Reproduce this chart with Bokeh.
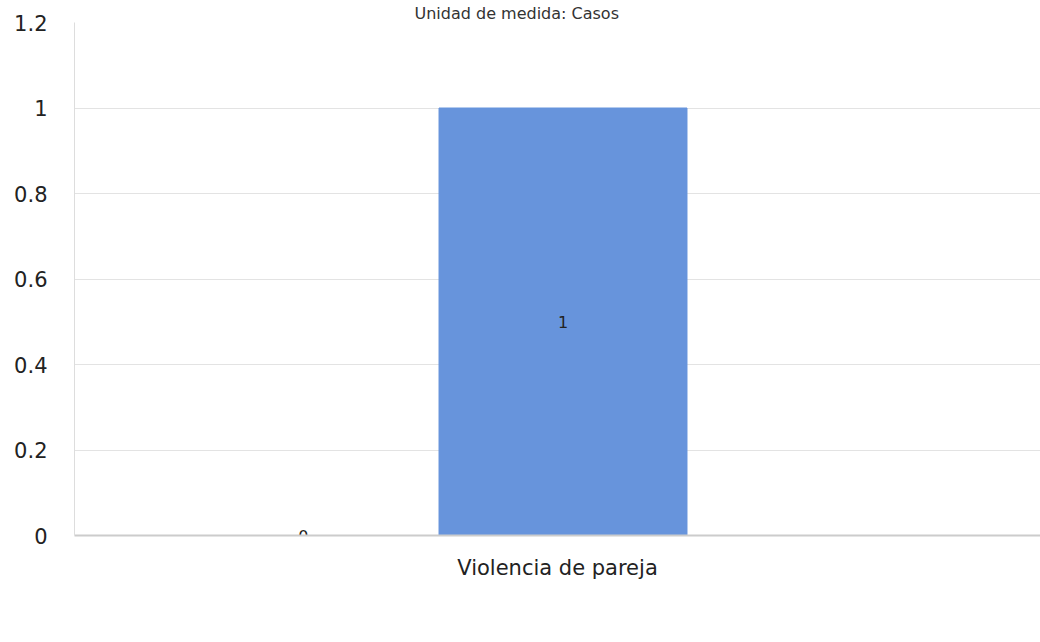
import numpy as np
from bokeh.plotting import figure
from bokeh.models import (ColumnDataSource, FactorRange, Range1d, FixedTicker,
                          CustomJSTickFormatter, Legend, LegendItem)
from bokeh.transform import dodge
from bokeh.core.properties import value
from bokeh.embed import file_html
from bokeh.resources import INLINE

categories = ["Violencia de pareja"]
series = ["Mujeres", "Hombres", "Total"]
mujeres = [0]
hombres = [1]
total = [np.nan]
colors = ["#66b5da", "#6794dc", "#676cda"]
y_ticks = [0, 0.2, 0.4, 0.6, 0.8, 1.0, 1.2]
title_text = "Unidad de medida: Casos"

FONT = "DejaVu Sans"

p = figure(frame_width=966, frame_height=513,
           x_range=FactorRange(factors=categories, range_padding=0),
           y_range=Range1d(0, 1.2),
           output_backend="svg", toolbar_location=None,
           min_border_left=74, min_border_right=0, min_border_top=22,
           min_border_bottom=107)
p.outline_line_color = None
p.background_fill_color = "white"
p.border_fill_color = "white"

p.title.text = title_text
p.title.align = "left"
p.title.offset = 340
p.title.text_font = FONT
p.title.text_font_size = "16px"
p.title.text_font_style = "normal"
p.title.text_color = "#333333"
p.title.standoff = 0

src = ColumnDataSource(dict(cat=categories, Mujeres=mujeres, Hombres=hombres,
                            Total=total,
                            Mujeres_mid=[v / 2 for v in mujeres],
                            Hombres_mid=[v / 2 for v in hombres],
                            Mujeres_lbl=[str(v) for v in mujeres],
                            Hombres_lbl=[str(v) for v in hombres]))

offsets = [-0.263, 0.0057, 0.274]
bw = 0.2567
renderers = []
for s, off, c in zip(series, offsets, colors):
    r = p.vbar(x=dodge("cat", off, range=p.x_range), top=s, bottom=0, width=bw,
               source=src, fill_color=c, line_color=c, line_width=1)
    renderers.append(r)

for s, off in zip(["Mujeres", "Hombres"], offsets[:2]):
    p.text(x=dodge("cat", off, range=p.x_range), y=s + "_mid", text=s + "_lbl",
           source=src, text_align="center", text_baseline="middle",
           text_font=value(FONT), text_font_size="16px", text_color="#222222")

p.yaxis.ticker = FixedTicker(ticks=y_ticks)
p.yaxis.formatter = CustomJSTickFormatter(code="return tick.toFixed(1).replace(/\\.0$/, '');")
p.yaxis.major_label_text_font = FONT
p.yaxis.major_label_text_font_size = "21px"
p.yaxis.major_label_text_color = "#222222"
p.yaxis.major_tick_line_color = None
p.yaxis.minor_tick_line_color = None
p.yaxis.axis_line_color = "#dddddd"
p.yaxis.major_label_standoff = 21

p.xaxis.major_label_text_font = FONT
p.xaxis.major_label_text_font_size = "21px"
p.xaxis.major_label_text_color = "#222222"
p.xaxis.major_tick_line_color = None
p.xaxis.axis_line_color = "#cccccc"
p.xaxis.axis_line_width = 2
p.xaxis.major_label_standoff = 14

p.xgrid.grid_line_color = None
p.ygrid.grid_line_color = "#e3e3e3"

legend = Legend(items=[LegendItem(label=s, renderers=[r]) for s, r in zip(series, renderers)],
                orientation="horizontal", location=(183, 0),
                glyph_width=61, glyph_height=38, padding=0, margin=0,
                spacing=27, label_standoff=4,
                label_text_font=FONT, label_text_font_size="21px",
                label_text_color="#222222", border_line_color=None,
                background_fill_alpha=0)
p.add_layout(legend, "below")

open("out.html", "w").write(file_html(p, INLINE))
